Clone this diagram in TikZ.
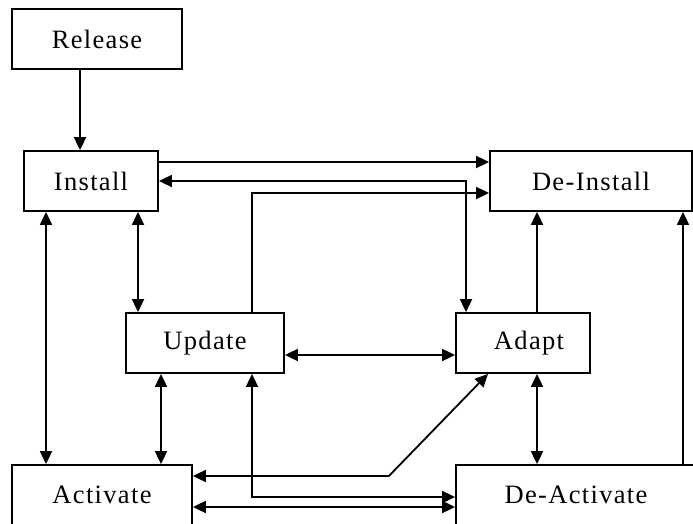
\documentclass[tikz,border=0pt]{standalone}
\usepackage{fontspec}
\setmainfont{Liberation Serif}[LetterSpace=5]
\usetikzlibrary{arrows.meta,calc,positioning}
\newcommand{\boxh}{60pt}
\tikzset{
    statesty/.style={draw,line width=1.8pt,rectangle,minimum height=\boxh,inner sep=0pt,anchor=center,
                     font=\fontsize{26.5pt}{30pt}\selectfont},
    linksty/.style={line width=1.8pt},
}

\begin{document}
\begin{tikzpicture}[x=1pt,y=-1pt,>={Triangle[length=13pt,width=12pt]}]
  \useasboundingbox (0,0) rectangle (693,524);
  \clip (0,0) rectangle (693,524);

  % states
  \node[statesty,minimum width=170pt] (release)    at (97,39)    {Release};
  \node[statesty,minimum width=134pt] (install)    at (91,181)   {Install};
  \node[statesty,minimum width=202pt] (deinstall)  at (591,181)  {De-Install};
  \node[statesty,minimum width=158pt] (update)     at (205,343)  {Update};
  \node[statesty,minimum width=134pt] (adapt)      at (523,343)  {\hspace*{12pt}Adapt};
  \node[statesty,minimum width=180pt] (activate)   at (102,495)  {Activate};
  \node[statesty,minimum width=240pt] (deactivate) at (576,495)  {De-Activate};

  % top row
  \draw[linksty,->] ([xshift=-17pt]release.south) -- ([xshift=-17pt]release.south |- install.north);
  \draw[linksty,->] ([yshift=19pt]install.east) -- ([yshift=19pt]install.east -| deinstall.west);
  \draw[linksty,<->] (install.east) -| ([xshift=-57pt]adapt.north);
  \draw[linksty,->] ([xshift=47pt]update.north) |- ([yshift=-12pt]deinstall.west);
  \draw[linksty,->] ([xshift=14pt]adapt.north) -- ([xshift=14pt]adapt.north |- deinstall.south);
  \draw[linksty,->] ([xshift=107pt]deactivate.north) -- ([xshift=107pt]deactivate.north |- deinstall.south);

  % install down
  \draw[linksty,<->] ([xshift=-45pt]install.south) -- ([xshift=-45pt]install.south |- activate.north);
  \draw[linksty,<->] ([xshift=47pt]install.south) -- ([xshift=47pt]install.south |- update.north);

  % middle row
  \draw[linksty,<->] ([yshift=-12pt]update.east) -- ([yshift=-12pt]update.east -| adapt.west);
  \draw[linksty,<->] ([xshift=-44pt]update.south) -- ([xshift=-44pt]update.south |- activate.north);
  \draw[linksty,<->] ([xshift=47pt]update.south) |- ([yshift=-2pt]deactivate.west);
  \draw[linksty,<->] ([xshift=14pt]adapt.south) -- ([xshift=14pt]adapt.south |- deactivate.north);

  % bottom row
  \draw[linksty,<->] ([yshift=19pt]activate.east) -- ++(196pt,0pt) -- ([xshift=-35pt]adapt.south);
  \draw[linksty,<->] ([yshift=-12pt]activate.east) -- ([yshift=-12pt]activate.east -| deactivate.west);
\end{tikzpicture}
\end{document}
